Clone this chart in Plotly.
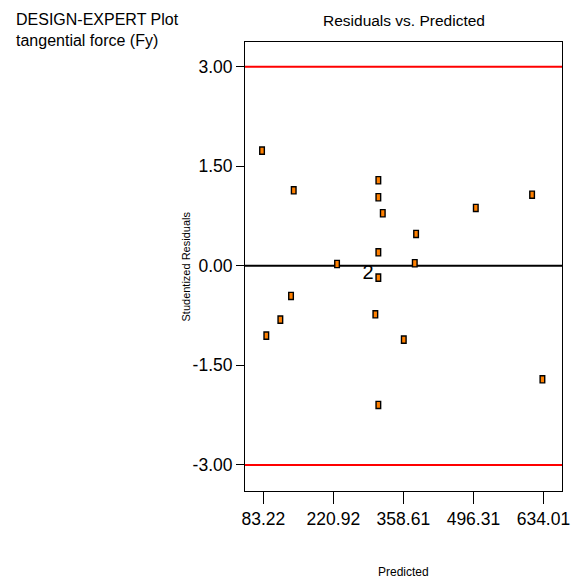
import plotly.graph_objects as go

# Predicted values and studentized residuals for tangential force (Fy)
predicted = [80.7, 143.0, 228.2, 309.4, 309.4, 318.1, 383.6, 309.4, 381.0, 309.4,
             137.7, 303.5, 116.7, 89.1, 359.4, 632.0, 309.4, 611.7, 501.0]
residuals = [1.734, 1.137, 0.027, 1.288, 1.032, 0.791, 0.479, 0.203, 0.038, -0.179,
             -0.455, -0.731, -0.812, -1.053, -1.113, -1.710, -2.097, 1.071, 0.871]

# Coincident runs, labelled with their count
dup_x = [289.1]
dup_y = [-0.131]
dup_count = ["2"]

x_ticks = [83.22, 220.92, 358.61, 496.31, 634.01]
x_ticktext = ["83.22", "220.92", "358.61", "496.31", "634.01"]
y_ticks = [3.0, 1.5, 0.0, -1.5, -3.0]
y_ticktext = ["3.00", "1.50", "0.00", "-1.50", "-3.00"]
limits = [3.0, -3.0]

FONT = "Liberation Sans, Arial, sans-serif"

fig = go.Figure()

# invisible trace carrying the points (for hover)
fig.add_trace(go.Scatter(x=predicted, y=residuals, mode="markers",
                         marker=dict(size=6, opacity=0), showlegend=False,
                         hoverinfo="x+y"))

fig.add_trace(go.Scatter(x=dup_x, y=dup_y, mode="text", text=dup_count,
                         textfont=dict(family=FONT, size=20, color="black"),
                         showlegend=False, hoverinfo="skip"))

shapes = []
# control limits
for lim in limits:
    shapes.append(dict(type="line", xref="paper", yref="y", x0=0, x1=1, y0=lim, y1=lim,
                       line=dict(color="#FF0000", width=2), layer="below"))
# zero line
shapes.append(dict(type="line", xref="paper", yref="y", x0=0, x1=1, y0=0, y1=0,
                   line=dict(color="black", width=2), layer="below"))
# small rectangular point markers
for px, py in zip(predicted, residuals):
    shapes.append(dict(type="rect", xref="x", yref="y",
                       xsizemode="pixel", ysizemode="pixel",
                       xanchor=px, yanchor=py,
                       x0=-2.3, x1=2.3, y0=-3.6, y1=3.6,
                       fillcolor="#FF8000", line=dict(color="black", width=1.4),
                       layer="above"))

fig.update_layout(
    width=578, height=579,
    margin=dict(l=245, r=16, t=42, b=88, autoexpand=False),
    paper_bgcolor="white", plot_bgcolor="white",
    font=dict(family=FONT, color="black"),
    shapes=shapes,
    showlegend=False,
    annotations=[
        dict(text="Residuals vs. Predicted", xref="paper", yref="paper",
             x=0.5, y=1, yshift=22, xanchor="center", yanchor="middle",
             showarrow=False, font=dict(size=15.5, family=FONT)),
        dict(text="DESIGN-EXPERT Plot<br>tangential force (Fy)", xref="paper", yref="paper",
             x=0, y=1, xshift=-231, yshift=12, xanchor="left", yanchor="middle",
             align="left", showarrow=False, font=dict(size=16, family=FONT)),
        dict(text="Predicted", xref="paper", yref="paper",
             x=0.5, y=0, yshift=-81, xanchor="center", yanchor="middle",
             showarrow=False, font=dict(size=12, family=FONT)),
        dict(text="Studentized Residuals", xref="paper", yref="paper",
             x=0, y=0.5, xshift=-60, xanchor="center", yanchor="middle",
             textangle=-90, showarrow=False, font=dict(size=11, family=FONT)),
    ],
)

fig.update_xaxes(
    range=[47.2, 670.5], tickmode="array", tickvals=x_ticks, ticktext=x_ticktext,
    ticks="outside", ticklen=12, tickwidth=1, tickcolor="black",
    tickfont=dict(size=17.5, family=FONT),
    showline=True, linecolor="black", linewidth=1, mirror=True,
    showgrid=False, zeroline=False, automargin=False,
)
fig.update_yaxes(
    range=[-3.393, 3.371], tickmode="array", tickvals=y_ticks, ticktext=y_ticktext,
    ticks="outside", ticklen=8, tickwidth=1, tickcolor="black",
    tickfont=dict(size=17.5, family=FONT),
    showline=True, linecolor="black", linewidth=1, mirror=True,
    showgrid=False, zeroline=False, automargin=False,
)

fig.write_html("out.html")
